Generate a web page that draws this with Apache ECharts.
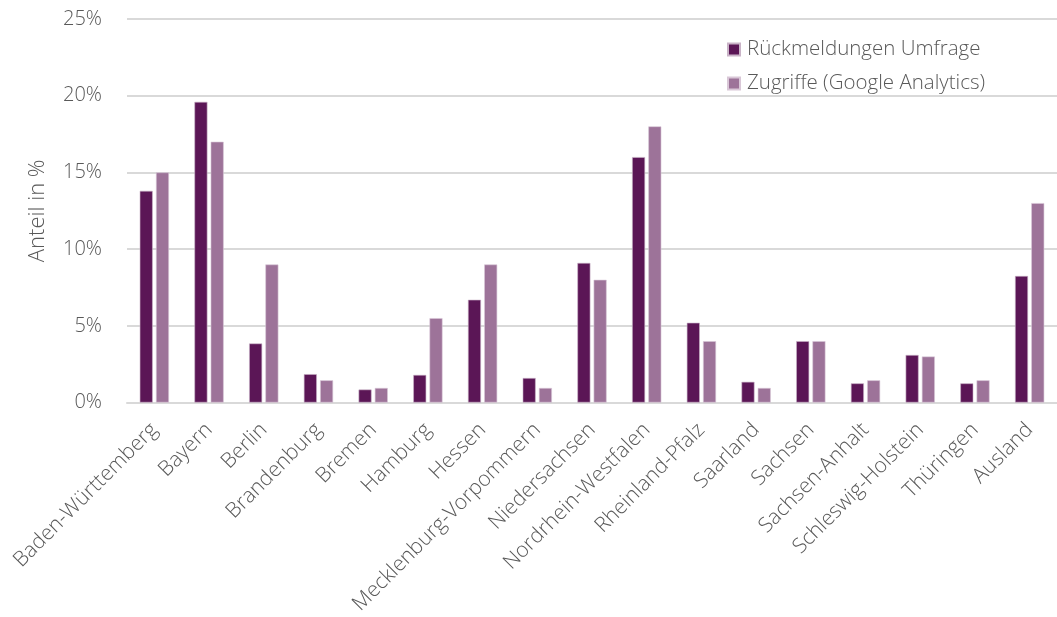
<!DOCTYPE html>
<html><head><meta charset="utf-8">
<script src="https://cdn.jsdelivr.net/npm/echarts@6/dist/echarts.min.js"></script>
<style>html,body{margin:0;padding:0;background:#fff}#c{width:1057px;height:617px}</style>
</head><body><div id="c"></div>
<script>
const categories = ["Baden-Württemberg","Bayern","Berlin","Brandenburg","Bremen","Hamburg","Hessen","Mecklenburg-Vorpommern","Niedersachsen","Nordrhein-Westfalen","Rheinland-Pfalz","Saarland","Sachsen","Sachsen-Anhalt","Schleswig-Holstein","Thüringen","Ausland"];
const umfrage = [13.8,19.6,3.85,1.85,0.85,1.8,6.7,1.6,9.1,16.0,5.2,1.35,4.0,1.25,3.1,1.25,8.25];
const analytics = [15.0,17.0,9.0,1.45,0.95,5.5,9.0,0.95,8.0,18.0,4.0,0.95,4.0,1.45,3.0,1.45,13.0];
const seriesNames = ["Rückmeldungen Umfrage","Zugriffe (Google Analytics)"];
const yTicks = [0,5,10,15,20,25];

const font = "'Open Sans', sans-serif";
const txt = '#595959';
const chart = echarts.init(document.getElementById('c'), null, {renderer:'canvas'});
chart.setOption({
  animation:false,
  textStyle:{fontFamily:font},
  grid:{left:127,right:0,top:19,bottom:213,containLabel:false},
  legend:{orient:'vertical',left:722,top:34,itemWidth:12,itemHeight:12,itemGap:13,
    icon:'rect',textStyle:{fontFamily:font,fontSize:20.5,fontWeight:300,color:txt,padding:[0,0,0,2]},
    data:seriesNames},
  xAxis:{type:'category',data:categories,
    axisLine:{show:true,lineStyle:{color:'#d9d9d9',width:2}},axisTick:{show:false},
    axisLabel:{rotate:45,interval:0,fontFamily:font,fontSize:21,fontWeight:300,color:txt,margin:24}},
  yAxis:{type:'value',min:0,max:25,interval:5,
    name:'Anteil in %',nameLocation:'middle',nameGap:78,nameRotate:90,
    nameTextStyle:{fontFamily:font,fontSize:22,fontWeight:300,color:txt},
    axisLine:{show:false},axisTick:{show:false},
    splitLine:{lineStyle:{color:'#d9d9d9',width:2}},
    axisLabel:{fontFamily:font,fontSize:20,fontWeight:300,color:txt,margin:25,
      formatter:v=>yTicks.includes(v)?v+'%':''}},
  series:[
    {name:seriesNames[0],type:'bar',data:umfrage,barWidth:13,barGap:'25%',
      itemStyle:{color:'#5B1656',borderColor:'#c9b3c7',borderWidth:0.6}},
    {name:seriesNames[1],type:'bar',data:analytics,barWidth:13,
      itemStyle:{color:'#9D7399',borderColor:'#d9c7d7',borderWidth:0.6}}
  ]
});
</script></body></html>
